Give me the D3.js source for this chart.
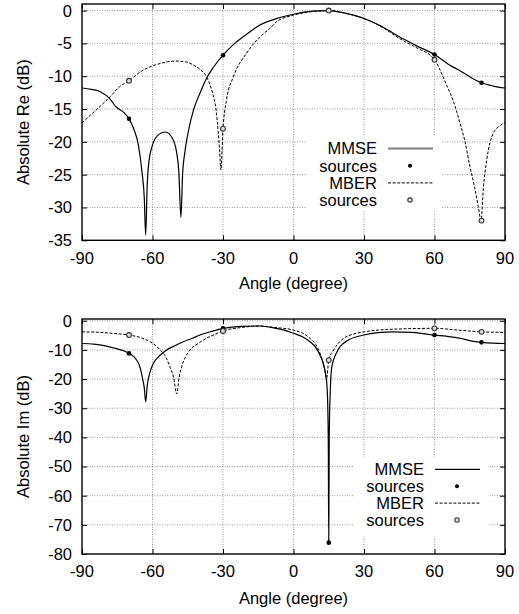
<!DOCTYPE html>
<html>
<head>
<meta charset="utf-8">
<script src="https://cdn.jsdelivr.net/npm/d3@7"></script>
<style>
    body { margin: 0; background: #fff; }
    svg text { font-family: "Liberation Sans", Arial, Helvetica, sans-serif; font-size: 16.5px; fill: #000; }
    .grid line { stroke: #999; stroke-width: 1; stroke-dasharray: 1,1.5; }
    .frame { fill: none; stroke: #000; stroke-width: 1.4; }
    .mmseLine { fill: none; stroke: #000; stroke-width: 1.2; }
    .mberLine { fill: none; stroke: #000; stroke-width: 1; stroke-dasharray: 3,1.6; }
    .mmseDot { fill: #000; }
    .mberDot { fill: #ddd; stroke: #333; stroke-width: 1.1; }
</style>
</head>
<body>
<div id="chart"></div>
<script>
// tick labels
const angleTicks = [-90, -60, -30, 0, 30, 60, 90];
const reTicks = [0, -5, -10, -15, -20, -25, -30, -35];
const imTicks = [0, -10, -20, -30, -40, -50, -60, -70, -80];
const legendLabels = ["MMSE", "sources", "MBER", "sources"];

// source directions (degree)
const sourceAngles = [-70, -30, 15, 60, 80];

// absolute Re, [angle, dB]
const reMmse = [[-90,-11.8],[-86,-12.0],[-82,-12.4],[-78,-13.5],[-75.7,-14.6],[-72,-15.6],[-70,-16.5],
    [-68,-18.0],[-66,-20.5],[-64.5,-24.5],[-63.5,-28.5],[-62.9,-34.2],[-62.3,-27],[-61.5,-23],[-60,-20.5],
    [-58,-19.1],[-54.5,-18.5],[-51.5,-19.5],[-49.8,-21.5],[-48.8,-24.5],[-47.9,-31.5],[-47.2,-25],
    [-46.2,-21.5],[-44.8,-18.5],[-42.6,-15.2],[-39.8,-12.6],[-37,-10.3],[-34,-8.6],[-30,-6.8],[-25,-5.0],
    [-21.4,-4.0],[-14.3,-2.2],[-7,-1.2],[0,-0.56],[8,-0.1],[15,0],[22,-0.4],[30,-1.2],[38,-2.5],[45,-4.0],
    [52,-5.3],[60,-6.7],[66,-8.2],[71,-9.2],[76,-10.3],[80,-11.0],[85,-11.5],[90,-11.8]];
const reMber = [[-90,-17.1],[-86,-15.8],[-82.3,-14.6],[-78,-13.1],[-74,-11.6],[-70,-10.7],[-65,-9.3],
    [-58,-8.2],[-50,-7.7],[-46,-7.8],[-42.6,-8.3],[-40,-8.9],[-37,-10.1],[-34.5,-12.5],[-33,-15],
    [-32,-18.7],[-31.4,-21.5],[-30.9,-24.3],[-30,-18.0],[-28.5,-13.6],[-25.6,-10.1],[-20,-6.5],
    [-14.3,-4.0],[-10,-2.7],[-7.2,-1.7],[0,-0.7],[8,-0.15],[15,0],[22,-0.4],[30,-1.2],[38,-2.6],
    [45.3,-4.3],[52,-5.6],[60,-7.5],[65.2,-11.4],[68,-13.8],[70.9,-17.2],[73,-20],[75.1,-23.8],
    [77,-26.8],[78.6,-29.8],[79.8,-32],[80.8,-27],[82.2,-22.8],[85,-18.7],[88,-17.5],[90,-17.1]];
const reMmseSources = [-16.5, -6.8, 0, -6.7, -11.0];
const reMberSources = [-10.7, -18.0, 0, -7.5, -32.0];

// absolute Im, [angle, dB]
const imMmse = [[-90,-7.8],[-85,-8.0],[-80,-8.6],[-75.7,-9.5],[-72,-10.4],[-70,-11.2],[-67,-13.2],
    [-65.5,-15.5],[-64.3,-19.5],[-63.5,-23],[-62.9,-27.8],[-62.2,-22],[-61.2,-18],[-59.6,-14.6],
    [-57,-12],[-54,-10],[-50,-8.4],[-46.9,-7.2],[-43,-6.0],[-39.8,-4.9],[-35,-3.7],[-30,-2.6],
    [-22,-1.9],[-14.3,-1.8],[-8,-2.5],[-4,-3.2],[0,-4.3],[4,-5.6],[7,-7.2],[9.5,-9.2],[11.3,-11.8],
    [12.6,-14.5],[13.6,-18],[14.3,-23],[14.8,-40],[15,-76.1],[15.2,-40],[15.7,-23],[16.3,-15.8],
    [18,-11.5],[19.8,-8.9],[23,-6.8],[30,-4.9],[36,-4.1],[42.5,-3.8],[50,-4.0],[55,-4.4],[60,-4.9],
    [65,-5.3],[70.9,-6.0],[75,-6.8],[80,-7.4],[85,-7.7],[90,-7.8]];
const imMber = [[-90,-3.8],[-85,-3.9],[-82.3,-4.0],[-76,-4.4],[-70,-4.9],[-65,-5.8],[-61,-7.2],
    [-58.5,-8.6],[-56.8,-10],[-54.5,-12.2],[-52.6,-15.8],[-51,-19.5],[-49.7,-25.1],[-48.7,-19.5],
    [-47.6,-15.8],[-46,-12.5],[-44,-10],[-40,-7.5],[-37,-6.0],[-33,-4.5],[-30,-3.5],[-22,-2.3],
    [-14.3,-1.8],[-8,-2.3],[0,-3.2],[4,-4.3],[7,-6.0],[9.5,-8.2],[11.3,-11.2],[12.8,-15],[14.1,-19.7],
    [15,-13.5],[17.1,-10],[19,-7.8],[21.4,-6.0],[25,-4.7],[30,-3.8],[36,-3.2],[42.5,-2.9],[50,-2.7],
    [60,-2.6],[70,-3.2],[80,-3.8],[90,-4.0]];
const imMmseSources = [-11.2, -2.6, -76.1, -4.9, -7.4];
const imMberSources = [-4.9, -3.5, -13.5, -2.6, -3.8];

const width = 519, height = 614;
const svg = d3.select("#chart").append("svg")
    .attr("width", width)
    .attr("height", height);

const xScale = d3.scaleLinear().domain([-90, 90]).range([82, 505]);

function drawPanel(opt) {
    let yScale = d3.scaleLinear().domain(opt.yDomain).range([opt.bottom, opt.top]);
    let g = svg.append("g");

    //---GRID-------------------------------------------------------------
    let grid = g.append("g").attr("class", "grid");
    grid.selectAll(".vgrid").data(angleTicks.slice(1, -1)).enter().append("line")
        .attr("x1", d => xScale(d)).attr("x2", d => xScale(d))
        .attr("y1", opt.top).attr("y2", opt.bottom);
    grid.selectAll(".hgrid").data(opt.yTicks.slice(0, -1)).enter().append("line")
        .attr("x1", xScale(-90)).attr("x2", xScale(90))
        .attr("y1", d => yScale(d)).attr("y2", d => yScale(d));

    //---AXES (inward ticks on all four sides)----------------------------
    g.append("g").attr("transform", "translate(0," + opt.bottom + ")")
        .call(d3.axisTop(xScale).tickValues(angleTicks).tickSize(5).tickFormat(""));
    g.append("g").attr("transform", "translate(0," + opt.top + ")")
        .call(d3.axisBottom(xScale).tickValues(angleTicks).tickSize(5).tickFormat(""));
    g.append("g").attr("transform", "translate(" + xScale(-90) + ",0)")
        .call(d3.axisRight(yScale).tickValues(opt.yTicks).tickSize(5).tickFormat(""));
    g.append("g").attr("transform", "translate(" + xScale(90) + ",0)")
        .call(d3.axisLeft(yScale).tickValues(opt.yTicks).tickSize(5).tickFormat(""));
    g.selectAll(".domain").remove();
    g.selectAll(".tick line").attr("stroke", "#000");

    g.selectAll(".xlab").data(angleTicks).enter().append("text")
        .attr("x", d => xScale(d))
        .attr("y", opt.bottom + opt.xLabelGap)
        .attr("text-anchor", "middle")
        .text(d => d);
    g.selectAll(".ylab").data(opt.yTicks).enter().append("text")
        .attr("x", 72)
        .attr("y", d => yScale(d))
        .attr("dy", "0.36em")
        .attr("text-anchor", "end")
        .text(d => d);

    g.append("text")
        .attr("x", xScale(0))
        .attr("y", opt.bottom + opt.xTitleGap)
        .attr("text-anchor", "middle")
        .text("Angle (degree)");
    g.append("text")
        .attr("text-anchor", "middle")
        .attr("transform", "translate(29," + (opt.top + opt.bottom) / 2 + ") rotate(-90)")
        .text(opt.yTitle);

    //---LEGEND BACKGROUND (covers grid)-----------------------------------
    let lg = opt.legend;
    g.append("rect")
        .attr("x", lg.x - 71).attr("y", lg.y - 12.5)
        .attr("width", 136).attr("height", lg.dy * 3 + lg.boxExtra)
        .attr("fill", "#fff");

    //---CURVES-----------------------------------------------------------
    let lineGen = d3.line()
        .x(d => xScale(d[0]))
        .y(d => yScale(d[1]))
        .curve(d3.curveMonotoneX);
    g.append("path").datum(opt.mmse).attr("class", "mmseLine").attr("d", lineGen);
    g.append("path").datum(opt.mber).attr("class", "mberLine").attr("d", lineGen);

    //---SOURCE POINTS----------------------------------------------------
    g.selectAll(".mmseDot").data(opt.mmseSources).enter().append("circle")
        .attr("class", "mmseDot")
        .attr("cx", (d, i) => xScale(sourceAngles[i]))
        .attr("cy", d => yScale(d))
        .attr("r", 2.3);
    g.selectAll(".mberDot").data(opt.mberSources).enter().append("circle")
        .attr("class", "mberDot")
        .attr("cx", (d, i) => xScale(sourceAngles[i]))
        .attr("cy", d => yScale(d))
        .attr("r", 2.4);

    //---LEGEND-----------------------------------------------------------
    legendLabels.forEach((label, i) => {
        let y = lg.y + i * lg.dy;
        g.append("text")
            .attr("x", lg.x).attr("y", y).attr("dy", "0.36em")
            .attr("text-anchor", "end")
            .text(label);
        if (i === 0) {
            g.append("line").attr("class", "mmseLine")
                .attr("x1", lg.x + 11).attr("x2", lg.x + 56)
                .attr("y1", y).attr("y2", y)
                .style("stroke", lg.mmseColor).style("stroke-width", lg.mmseWidth);
        } else if (i === 2) {
            g.append("line").attr("class", "mberLine")
                .attr("x1", lg.x + 11).attr("x2", lg.x + 56)
                .attr("y1", y).attr("y2", y);
        } else {
            g.append("circle")
                .attr("class", i === 1 ? "mmseDot" : "mberDot")
                .attr("cx", lg.x + 33).attr("cy", y)
                .attr("r", i === 1 ? 2 : 2.2);
        }
    });

    //---FRAME------------------------------------------------------------
    g.append("rect").attr("class", "frame")
        .attr("x", xScale(-90)).attr("y", opt.top)
        .attr("width", xScale(90) - xScale(-90))
        .attr("height", opt.bottom - opt.top);
}

drawPanel({
    top: 4, bottom: 240.3, yDomain: [-35, 1], yTicks: reTicks,
    yTitle: "Absolute Re (dB)", xLabelGap: 24, xTitleGap: 49,
    mmse: reMmse, mber: reMber, mmseSources: reMmseSources, mberSources: reMberSources,
    legend: {x: 377, y: 148.5, dy: 17.2, boxExtra: 23, mmseColor: "#808080", mmseWidth: 2}
});

drawPanel({
    top: 319, bottom: 554, yDomain: [-80, 0.6], yTicks: imTicks,
    yTitle: "Absolute Im (dB)", xLabelGap: 22.5, xTitleGap: 50,
    mmse: imMmse, mber: imMber, mmseSources: imMmseSources, mberSources: imMberSources,
    legend: {x: 424, y: 469.3, dy: 16.9, boxExtra: 28, mmseColor: "#000", mmseWidth: 1.2}
});
</script>
</body>
</html>
